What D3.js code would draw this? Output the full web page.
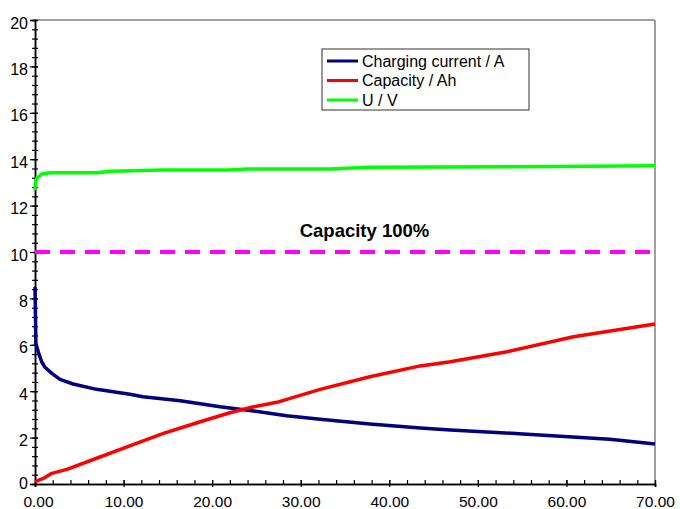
<!DOCTYPE html>
<html>
<head>
<meta charset="utf-8">
<script src="https://cdn.jsdelivr.net/npm/d3@7"></script>
<style>
  body { margin: 0; background: #fff; }
  svg { font-family: 'Liberation Sans', Arial, sans-serif; }
</style>
</head>
<body>
<script>
// time in hours (x) for each series
const currentT = [0, 0.05, 0.1, 0.37, 0.75, 1.13, 1.9, 2.82, 4.3, 6.96, 10.7, 12.2, 16.4, 20.9, 24.7, 28.4, 32.2, 37.8, 43.5, 46.9, 55.1, 64.9, 70];
const currentA = [8.5, 7.36, 6.06, 5.7, 5.27, 5.03, 4.77, 4.51, 4.31, 4.08, 3.87, 3.76, 3.59, 3.33, 3.15, 2.94, 2.79, 2.59, 2.41, 2.33, 2.16, 1.93, 1.72];

const capacityT = [0, 0.94, 1.9, 3.6, 6.96, 10.7, 14.5, 18.3, 22, 24.7, 27.3, 32.2, 37.8, 43.5, 46.9, 53.3, 60.8, 70];
const capacityAh = [0.1, 0.24, 0.46, 0.63, 1.11, 1.64, 2.18, 2.64, 3.07, 3.33, 3.52, 4.08, 4.62, 5.09, 5.27, 5.7, 6.35, 6.9];

const voltageT = [0, 0.05, 0.2, 0.75, 1.7, 7, 8.5, 14.5, 22, 23.9, 33.3, 37.8, 58.5, 70];
const voltageV = [12.67, 12.96, 13.18, 13.36, 13.42, 13.42, 13.48, 13.53, 13.53, 13.58, 13.58, 13.65, 13.68, 13.72];

const fullT = [0, 69.5];
const fullLevel = [10, 10];

const seriesNames = ['Charging current / A', 'Capacity / Ah', 'U / V'];
const seriesColors = ['#000080', '#ff0000', '#00ff00'];

const xMajor = [0, 10, 20, 30, 40, 50, 60, 70];
const yMajor = [0, 2, 4, 6, 8, 10, 12, 14, 16, 18, 20];
const xMinor = d3.range(0, 70.01, 2);
const yMinor = d3.range(0, 20.01, 0.4);

const W = 680, H = 509;
const svg = d3.select('body').append('svg').attr('width', W).attr('height', H);

const x = d3.scaleLinear().domain([0, 70]).range([35, 655]);
const y = d3.scaleLinear().domain([0, 20]).range([484, 20]);

// frame (top and right in grey)
svg.append('line').attr('x1', x(0)).attr('x2', x(70)).attr('y1', y(20)).attr('y2', y(20))
  .attr('stroke', '#a0a0a0').attr('stroke-width', 2);
svg.append('line').attr('x1', x(70)).attr('x2', x(70)).attr('y1', y(20)).attr('y2', y(0))
  .attr('stroke', '#a0a0a0').attr('stroke-width', 2);

// y axis
const yAxisMinor = svg.append('g').attr('transform', `translate(${x(0)},0)`)
  .call(d3.axisLeft(y).tickValues(yMinor).tickFormat('').tickSizeOuter(0).tickSize(3));
yAxisMinor.selectAll('.tick line').attr('x1', -3).attr('x2', 3);
const yAxis = svg.append('g').attr('transform', `translate(${x(0)},0)`)
  .call(d3.axisLeft(y).tickValues(yMajor).tickFormat(d3.format('d')).tickSizeOuter(0).tickSize(5).tickPadding(2));
yAxis.selectAll('.tick line').attr('x1', -5).attr('x2', 3);
yAxis.selectAll('text').attr('font-size', 16).attr('fill', '#000')
  .attr('dy', d => d === 0 ? '0.25em' : '0.5em')
  .attr('font-family', "'Liberation Sans', Arial, sans-serif");

// x axis
const xAxisMinor = svg.append('g').attr('transform', `translate(0,${y(0)})`)
  .call(d3.axisBottom(x).tickValues(xMinor).tickFormat('').tickSizeOuter(0).tickSize(3));
xAxisMinor.selectAll('.tick line').attr('y1', -4).attr('y2', 0);
const xAxis = svg.append('g').attr('transform', `translate(0,${y(0)})`)
  .call(d3.axisBottom(x).tickValues(xMajor).tickFormat(d => d.toFixed(2)).tickSizeOuter(0).tickSize(3).tickPadding(9));
xAxis.selectAll('.tick line').attr('y1', -4).attr('y2', 3);
xAxis.selectAll('text').attr('font-size', 15.5).attr('fill', '#000')
  .attr('dx', d => d === 0 ? 3 : 0)
  .attr('font-family', "'Liberation Sans', Arial, sans-serif");

svg.selectAll('.domain').attr('stroke', '#000').attr('stroke-width', 1.5);
svg.selectAll('.tick line').attr('stroke', '#000').attr('stroke-width', 1.2);

// 100% capacity line
const line = d3.line().x(d => x(d[0])).y(d => y(d[1]));
svg.append('path')
  .attr('d', line(d3.zip(fullT, fullLevel)))
  .attr('fill', 'none').attr('stroke', '#ff00ff').attr('stroke-width', 4)
  .attr('stroke-dasharray', '15,10');
svg.append('text').attr('x', x(37.2)).attr('y', y(10) - 15)
  .attr('text-anchor', 'middle').attr('font-size', 18.5).attr('font-weight', 'bold')
  .text('Capacity 100%');

// series
const series = [d3.zip(currentT, currentA), d3.zip(capacityT, capacityAh), d3.zip(voltageT, voltageV)];
series.forEach((s, i) => {
  svg.append('path').attr('d', line(s))
    .attr('fill', 'none').attr('stroke', seriesColors[i]).attr('stroke-width', 3.5)
    .attr('stroke-linejoin', 'round');
});

// legend
const leg = svg.append('g').attr('transform', 'translate(322,49)');
leg.append('rect').attr('width', 207).attr('height', 61)
  .attr('fill', '#fff').attr('stroke', '#333').attr('stroke-width', 1);
seriesNames.forEach((name, i) => {
  const ly = 12 + i * 19.5;
  leg.append('line').attr('x1', 5).attr('x2', 36).attr('y1', ly).attr('y2', ly)
    .attr('stroke', seriesColors[i]).attr('stroke-width', 3);
  leg.append('text').attr('x', 40).attr('y', ly + 5.5).attr('font-size', 16).text(name);
});
</script>
</body>
</html>
